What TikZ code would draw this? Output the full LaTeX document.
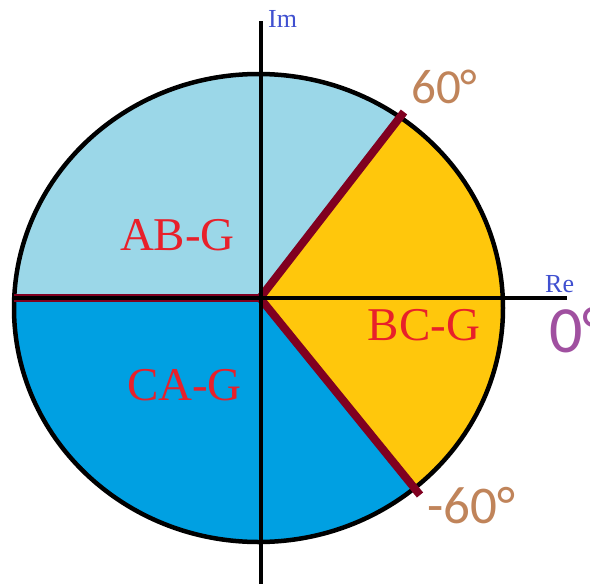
\documentclass[tikz,border=0pt]{standalone}
\usepackage{fontspec}
\newfontfamily\labelfont{Liberation Serif}
\newfontfamily\degfont{Carlito}
\usepackage{xcolor}
\usetikzlibrary{calc}
\definecolor{abblue}{HTML}{9BD7E8}
\definecolor{cablue}{HTML}{00A0E2}
\definecolor{bcyellow}{HTML}{FFC70C}
\definecolor{spokered}{HTML}{800020}
\definecolor{labelred}{HTML}{E8202A}
\definecolor{degtan}{HTML}{C0845A}
\definecolor{degpurple}{HTML}{A050A0}
\definecolor{axisblue}{HTML}{4050D0}

\begin{document}
\begin{tikzpicture}[
    x=1pt, y=-1pt,
    rim/.style={draw=black, line width=4.5pt},
    axis/.style={draw=black, line width=4pt},
    spoke/.style={draw=spokered, line width=8pt},
    phase/.style={text=labelred, inner sep=0pt, anchor=base, font=\labelfont\fontsize{47}{47}\selectfont},
    axlabel/.style={text=axisblue, inner sep=0pt, anchor=base west, font=\labelfont\fontsize{26}{26}\selectfont},
    deg/.style={text=#1, inner sep=0pt, anchor=base west},
]
\useasboundingbox (0,0) rectangle (590,584);
\coordinate (C) at (258.5,308);
\coordinate (O) at (260,298);
\coordinate (L) at (14,298);
\coordinate (P60) at (404,112);
\coordinate (Pm60) at (420,495);
\coordinate (ImTop) at (261,21);
\coordinate (ImBot) at (261,584);
\coordinate (ReL) at (12,298);
\coordinate (ReR) at (567,298);

\begin{scope}
\clip (C) ellipse [x radius=244.5, y radius=234];
\fill[cablue] (0,0) rectangle (590,584);
\fill[abblue] (O) -- ($(O)!3!(P60)$) -- (-100,-260) -- (-100,298) -- cycle;
\fill[bcyellow] (O) -- ($(O)!3!(P60)$) -- (900,-260) -- (900,900) -- ($(O)!3!(Pm60)$) -- cycle;
\end{scope}
\draw[rim] (C) ellipse [x radius=244.5, y radius=234];

\draw[spoke] (O) -- (L);
\draw[spoke] (O) -- (P60);
\draw[spoke] (O) -- (Pm60);

\draw[axis] (ImTop) -- (ImBot);
\draw[axis] (ReL) -- (ReR);

\node[phase] (abg) at (177.5,250) {AB-G};
\node[phase] (bcg) at (424,340) {BC-G};
\node[phase] (cag) at (184.5,400) {CA-G};
\node[axlabel] (im) at (268,27) {Im};
\node[axlabel] (re) at (545,292) {Re};
\node[deg=degtan, font=\degfont\fontsize{49}{49}\selectfont] (d60) at (411,103) {60°};
\node[deg=degtan, font=\degfont\fontsize{53}{53}\selectfont] (dm60) at (427,523) {-60°};
\node[deg=degpurple, font=\degfont\fontsize{66}{66}\selectfont] (d0) at (549,352) {0°};
\end{tikzpicture}
\end{document}
